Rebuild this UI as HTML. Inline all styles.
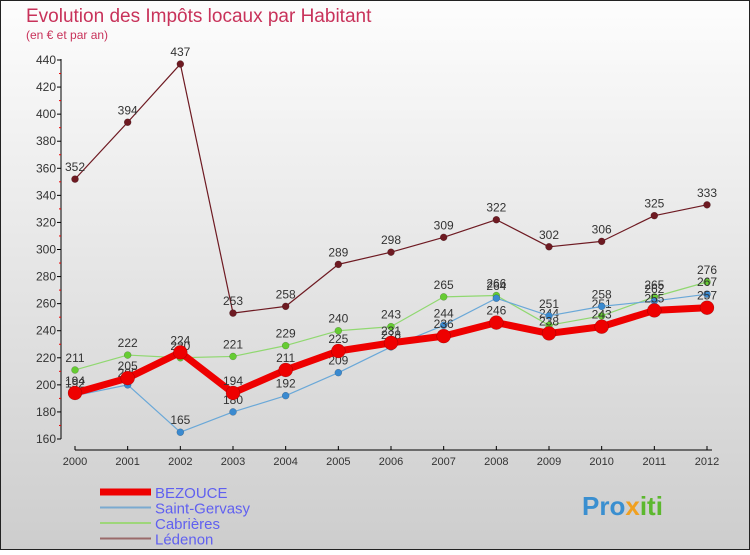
<!DOCTYPE html>
<html><head><meta charset="utf-8"><style>
body{margin:0;width:750px;height:550px;overflow:hidden;font-family:"Liberation Sans",sans-serif}
svg text{font-family:"Liberation Sans",sans-serif}
</style></head><body>
<svg width="750" height="550" xmlns="http://www.w3.org/2000/svg">
<defs><linearGradient id="bg" x1="0" y1="0" x2="0" y2="1"><stop offset="0" stop-color="#fdfdfd"/><stop offset="1" stop-color="#cdcdcd"/></linearGradient></defs>
<rect x="0.5" y="0.5" width="749" height="549" fill="url(#bg)" stroke="#222"/>
<text x="26" y="22" font-size="19" fill="#c8325a">Evolution des Impôts locaux par Habitant</text>
<text x="26" y="39" font-size="12" fill="#c8325a">(en € et par an)</text>
<g id="axes"></g>
<g id="series"></g>
<g id="legend"></g>
<text x="582" y="515" font-size="26" font-weight="bold" fill="#3a8fd0">Pro<tspan fill="#f0a020">x</tspan><tspan fill="#5cb82e">iti</tspan></text>
</svg>
<script>
const years=["2000","2001","2002","2003","2004","2005","2006","2007","2008","2009","2010","2011","2012"];
const yTicks=[160,180,200,220,240,260,280,300,320,340,360,380,400,420,440];
const bezouce=[194,205,224,194,211,225,231,236,246,238,243,255,257];
const saintGervasy=[192,200,165,180,192,209,228,244,264,251,258,262,267];
const cabrieres=[211,222,220,221,229,240,243,265,266,244,251,265,276];
const ledenon=[352,394,437,253,258,289,298,309,322,302,306,325,333];
const NS="http://www.w3.org/2000/svg";
function X(i){return 75+i*(632/12);}
function Y(v){return 439-(v-160)*(379/280);}
function mk(t,a,p){const e=document.createElementNS(NS,t);for(const k in a)e.setAttribute(k,a[k]);p.appendChild(e);return e;}
const ax=document.getElementById('axes');
let l=mk('line',{x1:61,y1:59,x2:61,y2:439,stroke:'#000'},ax);

l=mk('line',{x1:75,y1:450,x2:712,y2:450,stroke:'#000'},ax);

yTicks.forEach((v,i)=>{
 mk('line',{x1:57,y1:Y(v),x2:61,y2:Y(v),stroke:'#000'},ax);
 if(i<yTicks.length-1)mk('line',{x1:59,y1:Y(v+10),x2:61,y2:Y(v+10),stroke:'#e00'},ax);
 const t=mk('text',{x:56,y:Y(v)+4,'font-size':12,'text-anchor':'end',fill:'#333'},ax);t.textContent=v;
 
});
years.forEach((y,i)=>{
 mk('line',{x1:X(i),y1:446,x2:X(i),y2:450,stroke:'#000'},ax);
 const t=mk('text',{x:X(i),y:465,'font-size':11,'text-anchor':'middle',fill:'#333'},ax);t.textContent=y;
 
});
const sg=document.getElementById('series');
const defs=[
 {name:'ledenon',data:ledenon,color:'#6e1a22',w:1.2,r:3.5},
 {name:'cabrieres',data:cabrieres,color:'#90d870',w:1.2,r:3.5,fill:'#66cc33'},
 {name:'saint-gervasy',data:saintGervasy,color:'#6aa8d8',w:1.2,r:3.5,fill:'#3a8ad0'},
 {name:'bezouce',data:bezouce,color:'#ee0000',w:7,r:7}
];
defs.forEach(s=>{
 const g=mk('g',{},sg);
 
 const pl=mk('polyline',{points:s.data.map((v,i)=>X(i)+','+Y(v)).join(' '),fill:'none',stroke:s.color,'stroke-width':s.w,'stroke-linejoin':'round'},g);
 
 s.data.forEach((v,i)=>{
  const c=mk('circle',{cx:X(i),cy:Y(v),r:s.r,fill:s.fill||s.color,stroke:'rgba(0,0,0,0.3)','stroke-width':0.5},g);
  
  const t=mk('text',{x:X(i),y:Y(v)-8,'font-size':12,'text-anchor':'middle',fill:'#333'},g);t.textContent=v;
  
 });
});
const lg=document.getElementById('legend');
[['BEZOUCE','#ee0000',7],['Saint-Gervasy','#7aaad0',2],['Cabrières','#9ed67a',2],['Lédenon','#9a6a6a',2]].forEach((e,i)=>{
 const y=492+i*15.5;
 const g=mk('g',{},lg);
 mk('line',{x1:100,y1:y,x2:151,y2:y,stroke:e[1],'stroke-width':e[2]},g);
 const t=mk('text',{x:155,y:y+6,'font-size':15,fill:'#6060f0'},g);t.textContent=e[0];
});
</script>
</body></html>
